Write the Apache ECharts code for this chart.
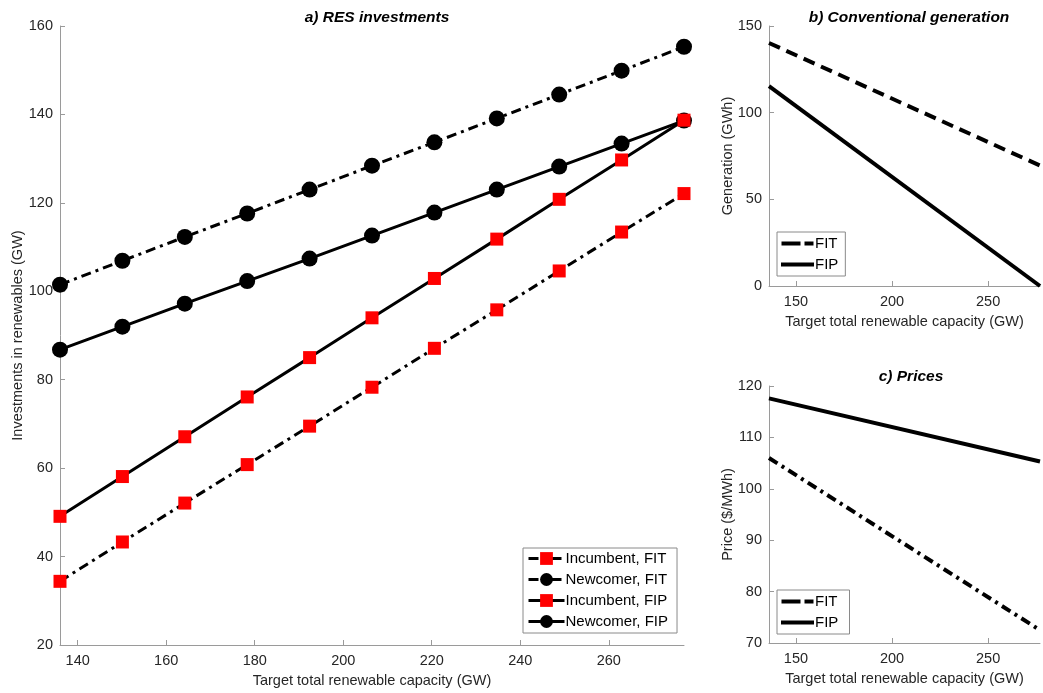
<!DOCTYPE html>
<html><head><meta charset="utf-8">
<script src="https://cdn.jsdelivr.net/npm/echarts@6/dist/echarts.min.js"></script>
<style>html,body{margin:0;padding:0;background:#fff}#c{width:1043px;height:693px}</style>
</head><body><div id="c"></div>
<script>
// ---- data ----
const capacity = [136, 150.1, 164.2, 178.3, 192.4, 206.5, 220.6, 234.7, 248.8, 262.9, 277];
const incumbentFIT = [34.4, 43.3, 52.1, 60.8, 69.5, 78.3, 87.1, 95.8, 104.6, 113.4, 122.1];
const newcomerFIT = [101.5, 106.9, 112.3, 117.6, 123.0, 128.4, 133.7, 139.1, 144.5, 149.9, 155.3];
const incumbentFIP = [49.1, 58.1, 67.1, 76.1, 85.0, 94.0, 102.9, 111.8, 120.8, 129.7, 138.7];
const newcomerFIP = [86.8, 92.0, 97.2, 102.3, 107.4, 112.6, 117.8, 123.0, 128.2, 133.4, 138.6];
const capEnds = [136, 277];
const genFIT = [140.2, 69.5];
const genFIP = [115.3, 0];
const priceFIT = [106.0, 72.5];
const priceFIP = [117.6, 105.3];
const mainXTicks = [140, 160, 180, 200, 220, 240, 260];
const sideXTicks = [150, 200, 250];

const pair = (xs, ys) => xs.map((x, i) => [x, ys[i]]);
const FONT = 'Liberation Sans';
const TXT = '#262626';
const AX = '#9a9a9a';
const dashDot = [10, 5, 3, 5];
const dashed = [12, 7];
const iconDash = 'path://M0,0H19V4H0Z M23,0H32V4H23Z';
const iconSolid = 'path://M0,0H33V4H0Z';

function xAxis(gi, ticks, name) {
  return {
    type: 'value', gridIndex: gi, min: 136, max: 277,
    name: name, nameLocation: 'middle', nameGap: 28, nameMoveOverlap: false,
    nameTextStyle: {color: TXT, fontFamily: FONT, fontSize: 14.5},
    axisLine: {show: true, lineStyle: {color: AX, width: 1}},
    axisTick: {show: true, inside: true, length: 5, lineStyle: {color: AX}, customValues: ticks},
    axisLabel: {color: TXT, fontFamily: FONT, fontSize: 14.5, margin: 8, customValues: ticks},
    splitLine: {show: false}
  };
}
function yAxis(gi, min, max, interval, name, gap) {
  return {
    type: 'value', gridIndex: gi, min: min, max: max, interval: interval,
    name: name, nameLocation: 'middle', nameGap: gap, nameRotate: 90, nameMoveOverlap: false,
    nameTextStyle: {color: TXT, fontFamily: FONT, fontSize: 14.5},
    axisLine: {show: true, lineStyle: {color: AX, width: 1}},
    axisTick: {show: true, inside: true, length: 5, lineStyle: {color: AX}},
    axisLabel: {color: TXT, fontFamily: FONT, fontSize: 14.5, margin: 7},
    splitLine: {show: false}
  };
}
function title(text, left, top) {
  return {text: text, left: left, top: top, textAlign: 'center',
    textStyle: {fontFamily: FONT, fontSize: 15.5, fontWeight: 'bold', fontStyle: 'italic', color: '#000'}};
}
const legendBase = {
  orient: 'vertical', backgroundColor: '#fff', borderColor: '#8a8a8a', borderWidth: 1,
  borderRadius: 0, padding: [3, 4, 3, 4], itemGap: 4,
  textStyle: {fontFamily: FONT, fontSize: 15, color: '#000', padding: [0, 0, 0, -4]}
};

const option = {
  animation: false,
  backgroundColor: '#fff',
  title: [
    title('a) RES investments', 372, 5),
    title('b) Conventional generation', 904, 5),
    title('c) Prices', 906, 364)
  ],
  grid: [
    {left: 60, right: 1043 - 684, top: 26, bottom: 693 - 645, outerBoundsMode: 'none', containLabel: false},
    {left: 769, right: 3, top: 26, bottom: 693 - 286, outerBoundsMode: 'none', containLabel: false},
    {left: 769, right: 3, top: 386, bottom: 693 - 643, outerBoundsMode: 'none', containLabel: false}
  ],
  xAxis: [
    xAxis(0, mainXTicks, 'Target total renewable capacity (GW)'),
    xAxis(1, sideXTicks, 'Target total renewable capacity (GW)'),
    xAxis(2, sideXTicks, 'Target total renewable capacity (GW)')
  ],
  yAxis: [
    yAxis(0, 20, 160, 20, 'Investments in renewables (GW)', 35),
    yAxis(1, 0, 150, 50, 'Generation (GWh)', 34),
    yAxis(2, 70, 120, 10, 'Price ($/MWh)', 34)
  ],
  legend: [
    Object.assign({}, legendBase, {left: 523, top: 548, itemWidth: 36, itemHeight: 16, itemGap: 6,
      padding: [3, 9, 4, 4], lineStyle: {width: 3},
      data: ['Incumbent, FIT', 'Newcomer, FIT', 'Incumbent, FIP', 'Newcomer, FIP']}),
    Object.assign({}, legendBase, {left: 777, top: 232, itemWidth: 33, itemHeight: 4, itemGap: 6,
      padding: [4, 7, 4, 4],
      data: [{name: 'FIT', icon: iconDash}, {name: 'FIP', icon: iconSolid}]}),
    Object.assign({}, legendBase, {left: 777, top: 590, itemWidth: 33, itemHeight: 4, itemGap: 6,
      padding: [4, 7, 4, 4],
      data: [{name: 'FIT ', icon: iconDash}, {name: 'FIP ', icon: iconSolid}]})
  ],
  series: [
    {name: 'Incumbent, FIT', type: 'line', xAxisIndex: 0, yAxisIndex: 0, data: pair(capacity, incumbentFIT),
      lineStyle: {color: '#000', width: 3, type: dashDot}, symbol: 'rect', symbolSize: 13,
      itemStyle: {color: '#ff0000', borderWidth: 0}, z: 3},
    {name: 'Newcomer, FIT', type: 'line', xAxisIndex: 0, yAxisIndex: 0, data: pair(capacity, newcomerFIT),
      lineStyle: {color: '#000', width: 3, type: dashDot}, symbol: 'circle', symbolSize: 16,
      itemStyle: {color: '#000', borderWidth: 0}, z: 3},
    {name: 'Incumbent, FIP', type: 'line', xAxisIndex: 0, yAxisIndex: 0, data: pair(capacity, incumbentFIP),
      lineStyle: {color: '#000', width: 3, type: 'solid'}, symbol: 'rect', symbolSize: 13,
      itemStyle: {color: '#ff0000', borderWidth: 0}, z: 4},
    {name: 'Newcomer, FIP', type: 'line', xAxisIndex: 0, yAxisIndex: 0, data: pair(capacity, newcomerFIP),
      lineStyle: {color: '#000', width: 3, type: 'solid'}, symbol: 'circle', symbolSize: 16,
      itemStyle: {color: '#000', borderWidth: 0}, z: 3},
    {name: 'FIT', type: 'line', xAxisIndex: 1, yAxisIndex: 1, data: pair(capEnds, genFIT),
      lineStyle: {color: '#000', width: 4, type: dashed}, symbol: 'none', itemStyle: {color: '#000'}},
    {name: 'FIP', type: 'line', xAxisIndex: 1, yAxisIndex: 1, data: pair(capEnds, genFIP),
      lineStyle: {color: '#000', width: 4, type: 'solid'}, symbol: 'none', itemStyle: {color: '#000'}},
    {name: 'FIT ', type: 'line', xAxisIndex: 2, yAxisIndex: 2, data: pair(capEnds, priceFIT),
      lineStyle: {color: '#000', width: 4, type: dashDot}, symbol: 'none', itemStyle: {color: '#000'}},
    {name: 'FIP ', type: 'line', xAxisIndex: 2, yAxisIndex: 2, data: pair(capEnds, priceFIP),
      lineStyle: {color: '#000', width: 4, type: 'solid'}, symbol: 'none', itemStyle: {color: '#000'}}
  ]
};
const chart = echarts.init(document.getElementById('c'), null, {renderer: 'canvas'});
chart.setOption(option);
</script></body></html>
